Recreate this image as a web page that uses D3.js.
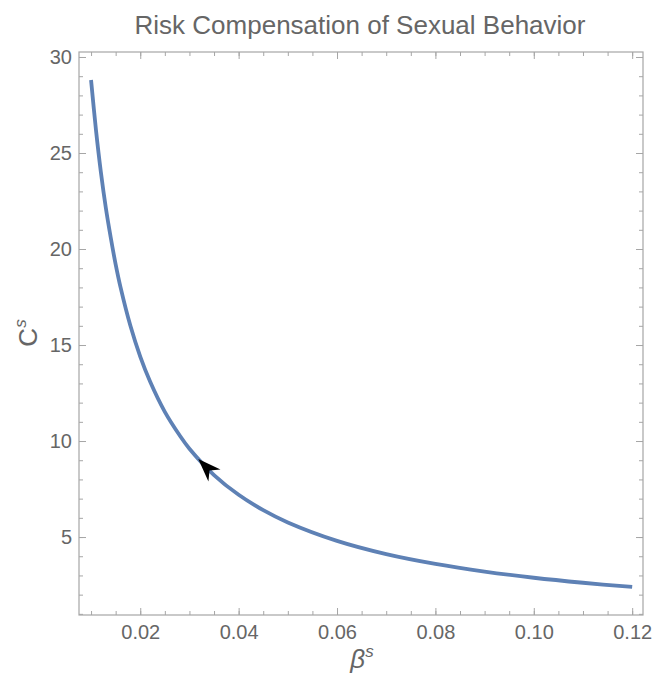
<!DOCTYPE html>
<html>
<head>
<meta charset="utf-8">
<script src="https://cdn.jsdelivr.net/npm/d3@7"></script>
<style>
  body { margin: 0; background: #fff; }
  text { font-family: "Liberation Sans", Arial, sans-serif; }
</style>
</head>
<body>
<svg width="654" height="678"></svg>
<script>
// curve values
var betaVals = [0.01, 0.011, 0.012, 0.013, 0.014, 0.015, 0.016, 0.018, 0.02, 0.022,
  0.025, 0.028, 0.03, 0.035, 0.04, 0.045, 0.05, 0.06, 0.07, 0.08, 0.09, 0.10, 0.11, 0.12];
var cVals = [28.8, 26.2, 24.0, 22.15, 20.6, 19.2, 18.0, 16.0, 14.4, 13.1,
  11.52, 10.3, 9.6, 8.23, 7.2, 6.4, 5.76, 4.8, 4.11, 3.6, 3.2, 2.88, 2.62, 2.4];
var xTicks = [0.02, 0.04, 0.06, 0.08, 0.10, 0.12];
var yTicks = [5, 10, 15, 20, 25, 30];
// arrow head: position on the curve, and the neighbour it points away from
var arrowAt = [0.0318, 9.06];
var arrowFrom = [0.035, 8.23];

var svg = d3.select("svg"),
  pLeft = 79, pRight = 643, pTop = 52, pBottom = 615;

var x = d3.scaleLinear().domain([0.00755, 0.1222]).range([pLeft, pRight]),
  y = d3.scaleLinear().domain([0.94, 30.26]).range([pBottom, pTop]);

var frameCol = "#a6a6a6", textCol = "#666";

var xMinor = d3.range(0.01, 0.1201, 0.005),
  yMinor = d3.range(1, 30.01, 1);

function styleAxis(g) {
  g.select(".domain").remove();
  g.selectAll("line").attr("stroke", frameCol);
  g.selectAll("text").attr("fill", textCol).style("font-size", "20px");
}

// minor ticks all four sides
svg.append("g").attr("transform", "translate(0," + pBottom + ")")
  .call(d3.axisBottom(x).tickValues(xMinor).tickSize(-4).tickFormat("")).call(styleAxis);
svg.append("g").attr("transform", "translate(0," + pTop + ")")
  .call(d3.axisTop(x).tickValues(xMinor).tickSize(-4).tickFormat("")).call(styleAxis);
svg.append("g").attr("transform", "translate(" + pLeft + ",0)")
  .call(d3.axisLeft(y).tickValues(yMinor).tickSize(-4).tickFormat("")).call(styleAxis);
svg.append("g").attr("transform", "translate(" + pRight + ",0)")
  .call(d3.axisRight(y).tickValues(yMinor).tickSize(-4).tickFormat("")).call(styleAxis);

// major ticks
svg.append("g").attr("transform", "translate(0," + pBottom + ")")
  .call(d3.axisBottom(x).tickValues(xTicks).tickSize(-7).tickPadding(10).tickFormat(d3.format(".2f")))
  .call(styleAxis);
svg.append("g").attr("transform", "translate(0," + pTop + ")")
  .call(d3.axisTop(x).tickValues(xTicks).tickSize(-7).tickFormat("")).call(styleAxis);
svg.append("g").attr("transform", "translate(" + pLeft + ",0)")
  .call(d3.axisLeft(y).tickValues(yTicks).tickSize(-7).tickPadding(7))
  .call(styleAxis);
svg.append("g").attr("transform", "translate(" + pRight + ",0)")
  .call(d3.axisRight(y).tickValues(yTicks).tickSize(-7).tickFormat("")).call(styleAxis);

svg.append("rect")
  .attr("x", pLeft).attr("y", pTop)
  .attr("width", pRight - pLeft).attr("height", pBottom - pTop)
  .attr("fill", "none").attr("stroke", frameCol).attr("stroke-width", 1.2);

var pts = betaVals.map(function(b, i) { return [b, cVals[i]]; });
var line = d3.line()
  .curve(d3.curveCatmullRom.alpha(0.5))
  .x(function(d) { return x(d[0]); })
  .y(function(d) { return y(d[1]); });

svg.append("path")
  .datum(pts)
  .attr("d", line)
  .attr("fill", "none")
  .attr("stroke", "#5e81b5")
  .attr("stroke-width", 3.8);

// arrow head
var ax = x(arrowAt[0]), ay = y(arrowAt[1]);
var ang = Math.atan2(ay - y(arrowFrom[1]), ax - x(arrowFrom[0])) * 180 / Math.PI;
svg.append("path")
  .attr("d", "M0,0 L-23,-8.5 L-16,0 L-23,8.5 Z")
  .attr("transform", "translate(" + ax + "," + ay + ") rotate(" + ang + ")")
  .attr("fill", "#000");

// title and labels
svg.append("text")
  .attr("x", 360).attr("y", 34)
  .attr("text-anchor", "middle")
  .attr("fill", textCol)
  .style("font-size", "26px")
  .text("Risk Compensation of Sexual Behavior");

var yl = svg.append("text")
  .attr("transform", "translate(37,333) rotate(-90)")
  .attr("text-anchor", "middle")
  .attr("fill", textCol)
  .style("font-size", "26px");
yl.append("tspan").text("C");
yl.append("tspan").attr("dy", -11).style("font-size", "17px").style("font-style", "italic").text("s");

var xl = svg.append("text")
  .attr("x", 362).attr("y", 668)
  .attr("text-anchor", "middle")
  .attr("fill", textCol)
  .style("font-size", "26px");
xl.append("tspan").style("font-style", "italic").text("β");
xl.append("tspan").attr("dy", -11).style("font-size", "17px").style("font-style", "italic").text("s");
</script>
</body>
</html>
